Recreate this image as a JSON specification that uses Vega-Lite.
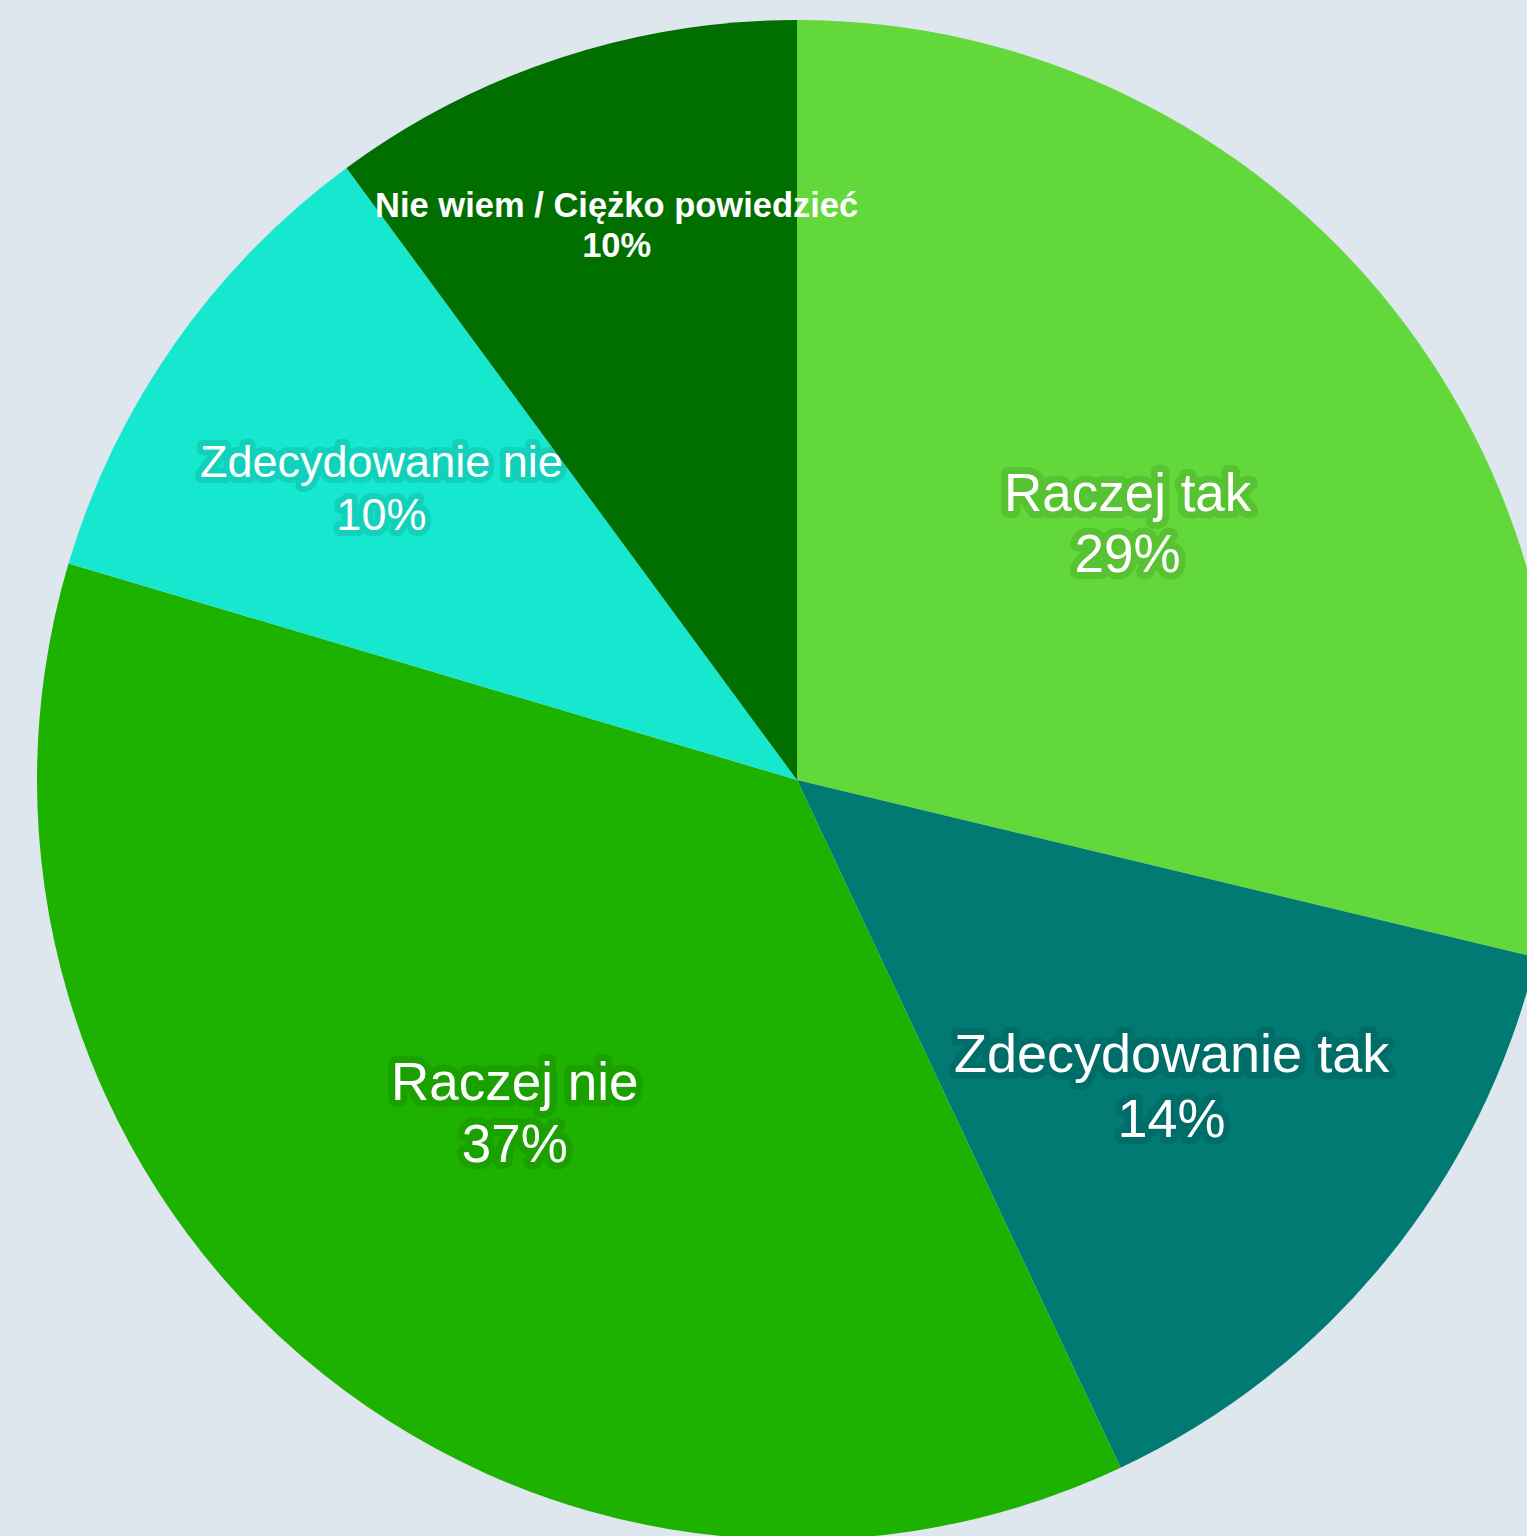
{
  "$schema": "https://vega.github.io/schema/vega-lite/v6.json",
  "width": 1520,
  "height": 1520,
  "autosize": "none",
  "padding": {"left": 37, "top": 20, "right": 0, "bottom": 0},
  "background": "#dee6ee",
  "config": {"view": {"stroke": null}, "text": {"baseline": "alphabetic", "font": "Liberation Sans", "strokeJoin": "round"}},
  "data": {
    "values": [
      {"k": 1, "name": "Raczej tak", "v": 28.75, "pct": "29%"},
      {"k": 2, "name": "Zdecydowanie tak", "v": 14.25, "pct": "14%"},
      {"k": 3, "name": "Raczej nie", "v": 36.6, "pct": "37%"},
      {"k": 4, "name": "Zdecydowanie nie", "v": 10.3, "pct": "10%"},
      {"k": 5, "name": "Nie wiem / Ciężko powiedzieć", "v": 10.1, "pct": "10%"}
    ]
  },
  "encoding": {
    "theta": {"field": "v", "type": "quantitative", "stack": true},
    "order": {"field": "k", "type": "quantitative"}
  },
  "layer": [
    {
      "mark": {"type": "arc"},
      "encoding": {
        "color": {
          "field": "name",
          "type": "nominal",
          "legend": null,
          "scale": {
            "domain": ["Raczej tak", "Zdecydowanie tak", "Raczej nie", "Zdecydowanie nie", "Nie wiem / Ciężko powiedzieć"],
            "range": ["#63d83a", "#007a73", "#1db100", "#16e7cf", "#006f00"]
          }
        }
      }
    },
    {
      "mark": {"type": "text", "radius": 421, "dy": -8, "fontSize": 53, "fill": "#0a3a00", "stroke": "#0a3a00", "strokeWidth": 14, "opacity": 0.13},
      "encoding": {"text": {"condition": {"test": "datum.k === 1", "field": "name", "type": "nominal"}, "value": ""}}
    },
    {
      "mark": {"type": "text", "radius": 421, "dy": 53, "fontSize": 53, "fill": "#0a3a00", "stroke": "#0a3a00", "strokeWidth": 14, "opacity": 0.13},
      "encoding": {"text": {"condition": {"test": "datum.k === 1", "field": "pct", "type": "nominal"}, "value": ""}}
    },
    {
      "mark": {"type": "text", "radius": 483, "dy": -13, "fontSize": 54, "fill": "#002f2c", "stroke": "#002f2c", "strokeWidth": 14, "opacity": 0.15},
      "encoding": {"text": {"condition": {"test": "datum.k === 2", "field": "name", "type": "nominal"}, "value": ""}}
    },
    {
      "mark": {"type": "text", "radius": 483, "dy": 52, "fontSize": 54, "fill": "#002f2c", "stroke": "#002f2c", "strokeWidth": 14, "opacity": 0.15},
      "encoding": {"text": {"condition": {"test": "datum.k === 2", "field": "pct", "type": "nominal"}, "value": ""}}
    },
    {
      "mark": {"type": "text", "radius": 433, "dy": -8, "fontSize": 53, "fill": "#0a3a00", "stroke": "#0a3a00", "strokeWidth": 14, "opacity": 0.13},
      "encoding": {"text": {"condition": {"test": "datum.k === 3", "field": "name", "type": "nominal"}, "value": ""}}
    },
    {
      "mark": {"type": "text", "radius": 433, "dy": 54, "fontSize": 53, "fill": "#0a3a00", "stroke": "#0a3a00", "strokeWidth": 14, "opacity": 0.13},
      "encoding": {"text": {"condition": {"test": "datum.k === 3", "field": "pct", "type": "nominal"}, "value": ""}}
    },
    {
      "mark": {"type": "text", "radius": 508, "dy": -11, "fontSize": 45, "fill": "#005a50", "stroke": "#005a50", "strokeWidth": 12, "opacity": 0.15},
      "encoding": {"text": {"condition": {"test": "datum.k === 4", "field": "name", "type": "nominal"}, "value": ""}}
    },
    {
      "mark": {"type": "text", "radius": 508, "dy": 42, "fontSize": 45, "fill": "#005a50", "stroke": "#005a50", "strokeWidth": 12, "opacity": 0.15},
      "encoding": {"text": {"condition": {"test": "datum.k === 4", "field": "pct", "type": "nominal"}, "value": ""}}
    },
    {
      "mark": {"type": "text", "radius": 421, "dy": -8, "fontSize": 53, "fill": "white"},
      "encoding": {"text": {"condition": {"test": "datum.k === 1", "field": "name", "type": "nominal"}, "value": ""}}
    },
    {
      "mark": {"type": "text", "radius": 421, "dy": 53, "fontSize": 53, "fill": "white"},
      "encoding": {"text": {"condition": {"test": "datum.k === 1", "field": "pct", "type": "nominal"}, "value": ""}}
    },
    {
      "mark": {"type": "text", "radius": 483, "dy": -13, "fontSize": 54, "fill": "white"},
      "encoding": {"text": {"condition": {"test": "datum.k === 2", "field": "name", "type": "nominal"}, "value": ""}}
    },
    {
      "mark": {"type": "text", "radius": 483, "dy": 52, "fontSize": 54, "fill": "white"},
      "encoding": {"text": {"condition": {"test": "datum.k === 2", "field": "pct", "type": "nominal"}, "value": ""}}
    },
    {
      "mark": {"type": "text", "radius": 433, "dy": -8, "fontSize": 53, "fill": "white"},
      "encoding": {"text": {"condition": {"test": "datum.k === 3", "field": "name", "type": "nominal"}, "value": ""}}
    },
    {
      "mark": {"type": "text", "radius": 433, "dy": 54, "fontSize": 53, "fill": "white"},
      "encoding": {"text": {"condition": {"test": "datum.k === 3", "field": "pct", "type": "nominal"}, "value": ""}}
    },
    {
      "mark": {"type": "text", "radius": 508, "dy": -11, "fontSize": 45, "fill": "white"},
      "encoding": {"text": {"condition": {"test": "datum.k === 4", "field": "name", "type": "nominal"}, "value": ""}}
    },
    {
      "mark": {"type": "text", "radius": 508, "dy": 42, "fontSize": 45, "fill": "white"},
      "encoding": {"text": {"condition": {"test": "datum.k === 4", "field": "pct", "type": "nominal"}, "value": ""}}
    },
    {
      "mark": {"type": "text", "radius": 578, "dy": -14, "fontSize": 34.5, "fontWeight": "bold", "fill": "white"},
      "encoding": {"text": {"condition": {"test": "datum.k === 5", "field": "name", "type": "nominal"}, "value": ""}}
    },
    {
      "mark": {"type": "text", "radius": 578, "dy": 26, "fontSize": 34.5, "fontWeight": "bold", "fill": "white"},
      "encoding": {"text": {"condition": {"test": "datum.k === 5", "field": "pct", "type": "nominal"}, "value": ""}}
    }
  ]
}
